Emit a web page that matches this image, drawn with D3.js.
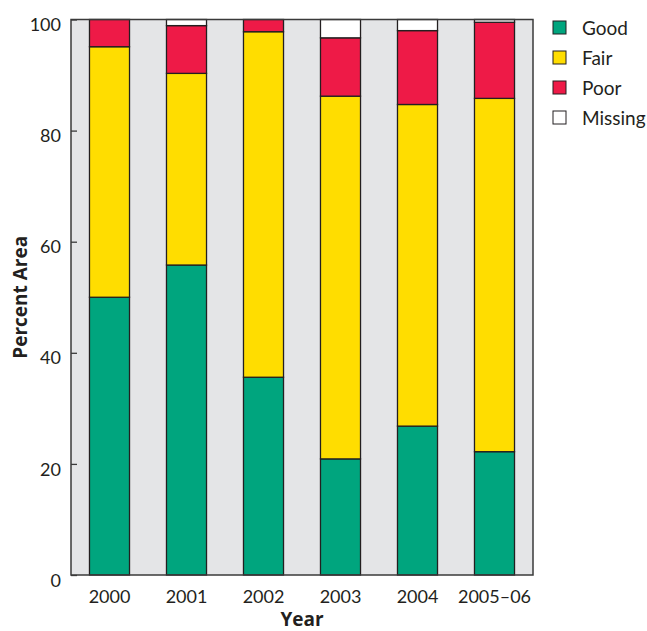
<!DOCTYPE html>
<html><head><meta charset="utf-8">
<script src="https://cdn.jsdelivr.net/npm/d3@7"></script>
<style>body{margin:0;background:#fff;} text{fill:#231f20;}</style>
</head><body>
<svg id="c" width="647" height="631"></svg>
<script>
const years = ["2000","2001","2002","2003","2004","2005–06"];
const good    = [50.0, 55.8, 35.6, 20.9, 26.8, 22.2];
const fair    = [45.1, 34.5, 62.2, 65.3, 57.9, 63.6];
const poor    = [4.9,  8.6,  2.2, 10.5, 13.3, 13.7];
const missing = [0,    1.1,  0,    3.3,  2.0,  0.5];
const seriesNames = ["Good","Fair","Poor","Missing"];
const colors = ["#00a57e","#ffdd00","#ee1a47","#ffffff"];
const yTicks = [0,20,40,60,80,100];

const rows = years.map((y,i)=>({year:y, Good:good[i], Fair:fair[i], Poor:poor[i], Missing:missing[i]}));
const svg = d3.select("#c");
const m = {l:71, r:533, t:19.5, b:575};
const x = d3.scaleBand().domain(years).range([m.l, m.r]).paddingInner(0.48).paddingOuter(0.24);
const y = d3.scaleLinear().domain([0,100]).range([m.b, m.t]);
const F = "Lato, sans-serif", FB = "'Open Sans', sans-serif";

svg.append("rect").attr("x",m.l).attr("y",m.t).attr("width",m.r-m.l).attr("height",m.b-m.t)
  .attr("fill","#e4e5e7");

const stack = d3.stack().keys(seriesNames)(rows);
svg.append("g").selectAll("g").data(stack).join("g")
  .attr("fill",(d,i)=>colors[i])
  .selectAll("rect").data(d=>d.filter(p=>p[1]-p[0]>0)).join("rect")
  .attr("x",d=>x(d.data.year)).attr("width",x.bandwidth())
  .attr("y",d=>y(d[1])).attr("height",d=>y(d[0])-y(d[1]))
  .attr("stroke","#231f20").attr("stroke-width",1.3);

svg.append("rect").attr("x",m.l).attr("y",m.t).attr("width",m.r-m.l).attr("height",m.b-m.t)
  .attr("fill","none").attr("stroke","#3a3a3a").attr("stroke-width",1.5);

// y ticks
const yAxis = d3.axisLeft(y).tickValues(yTicks).tickSize(-6).tickPadding(10);
const ga = svg.append("g").attr("transform",`translate(${m.l},0)`).call(yAxis);
ga.select(".domain").remove();
ga.selectAll(".tick line").attr("stroke","#3a3a3a").attr("stroke-width",1.3);
ga.selectAll(".tick text").style("font-size","18px").attr("dy","0.62em").style("font-family",F).style("fill","#231f20");

// x labels
const xAxis = d3.axisBottom(x).tickSize(0).tickPadding(15);
const gx = svg.append("g").attr("transform",`translate(0,${m.b})`).call(xAxis);
gx.select(".domain").remove();
gx.selectAll(".tick text").style("font-size","18px").style("font-family",F).style("fill","#231f20");

svg.append("text").attr("x",(m.l+m.r)/2).attr("y",626).attr("text-anchor","middle")
  .style("font-family",FB).style("font-size","19px").style("font-weight","bold").text("Year");
svg.append("text").attr("transform",`translate(27,${(m.t+m.b)/2}) rotate(-90)`).attr("text-anchor","middle")
  .style("font-family",FB).style("font-size","19px").style("font-weight","bold").text("Percent Area");

// legend
const lg = svg.append("g");
seriesNames.forEach((n,i)=>{
  const yy = 21 + i*30;
  lg.append("rect").attr("x",553).attr("y",yy).attr("width",13).attr("height",13)
    .attr("fill",colors[i]).attr("stroke","#231f20").attr("stroke-width",1);
  lg.append("text").attr("x",582).attr("y",yy+13.5).style("font-family",F).style("font-size","19px").text(n);
});
</script>
</body></html>
